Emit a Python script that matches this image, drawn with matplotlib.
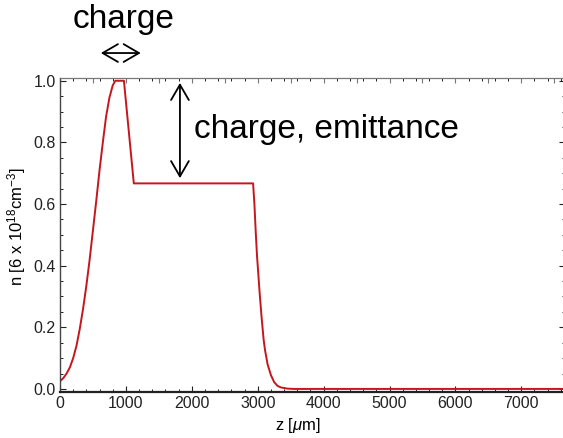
import numpy as np
import matplotlib
matplotlib.use("Agg")
import matplotlib.pyplot as plt
from matplotlib.ticker import MultipleLocator

plt.rcParams['font.family'] = ['Liberation Sans', 'DejaVu Sans']
plt.rcParams['mathtext.fontset'] = 'custom'
plt.rcParams['mathtext.rm'] = 'Liberation Sans'
plt.rcParams['mathtext.it'] = 'Liberation Sans:italic'

# density profile
z_um = [0, 50, 100, 150, 200, 250, 300, 350, 400, 450, 500, 550, 600, 650,
        700, 750, 800, 840, 970, 1120, 2930, 2950, 2970, 2990, 3005, 3030,
        3060, 3090, 3111, 3150, 3200, 3250, 3300, 3350, 3450, 3550, 7700]
n_rel = [0.025, 0.035, 0.05, 0.07, 0.10, 0.14, 0.195, 0.26, 0.335, 0.42,
         0.515, 0.61, 0.71, 0.80, 0.885, 0.945, 0.985, 1.0, 1.0, 0.667,
         0.667, 0.60, 0.51, 0.43, 0.386, 0.31, 0.23, 0.16, 0.126, 0.08,
         0.045, 0.022, 0.01, 0.005, 0.001, 0.0, 0.0]

xticks = [0, 1000, 2000, 3000, 4000, 5000, 6000, 7000]
yticks = [0.0, 0.2, 0.4, 0.6, 0.8, 1.0]

charge_span = (620, 1225)     # horizontal arrow above the peak
emit_drop = (0.993, 0.684)    # vertical arrow at z = 1820
emit_z = 1820

fig = plt.figure(figsize=(5.63, 4.38), dpi=100)
ax = fig.add_axes([60 / 563, 46.3 / 438, 505 / 563, 313.4 / 438])

ax.plot(z_um, n_rel, color='#c4161c', lw=1.4)

ax.set_xlim(0, 7663)
ax.set_ylim(-0.009, 1.008)
ax.set_xticks(xticks)
ax.set_yticks(yticks)
ax.set_yticklabels([f"{v:.1f}" for v in yticks])
ax.xaxis.set_minor_locator(MultipleLocator(200))
ax.yaxis.set_minor_locator(MultipleLocator(0.05))

ax.tick_params(which='both', direction='in', labelsize=11.5, colors='#222222',
               top=True, right=True, pad=3)
ax.tick_params(which='major', length=4.5, width=0.8)
ax.tick_params(which='minor', length=2.5, width=0.7)

# top frame has its own ticks every 500 um
top = ax.secondary_xaxis('top')
top.set_xticks(np.arange(0, 7700, 500))
top.set_xticklabels([])
top.tick_params(direction='in', length=3.5, color='#777777')
top.spines['top'].set_color('#777777')
ax.tick_params(top=False)

ax.spines['bottom'].set_linewidth(1.6)
ax.spines['bottom'].set_color('#222222')
ax.spines['left'].set_color('#444444')
ax.spines['left'].set_linewidth(1.0)
ax.spines['top'].set_color('#777777')
ax.spines['right'].set_color('#777777')

ax.set_xlabel(r'z [$\mathit{\mu}$m]', fontsize=12)
ax.set_ylabel(r'n [6 x 10$^{18}$cm$^{-3}$]', fontsize=12)
ax.xaxis.set_label_coords(0.471, -0.076)
ax.yaxis.set_label_coords(-0.063, 0.526)

arrow = dict(arrowstyle='<->, head_length=0.55, head_width=0.32',
             lw=1.3, color='black', shrinkA=0, shrinkB=0, mutation_scale=20)
ax.annotate('', xy=(charge_span[0], 1.09), xytext=(charge_span[1], 1.09),
            arrowprops=arrow, annotation_clip=False)
ax.annotate('', xy=(emit_z, emit_drop[0]), xytext=(emit_z, emit_drop[1]),
            arrowprops=arrow, annotation_clip=False)

fig.text(124 / 563, 1 - 28 / 438, 'charge', fontsize=24, ha='center', va='baseline')
fig.text(326 / 563, 1 - 138 / 438, 'charge, emittance', fontsize=24,
         ha='center', va='baseline')

fig.savefig('out.png', dpi=100)
